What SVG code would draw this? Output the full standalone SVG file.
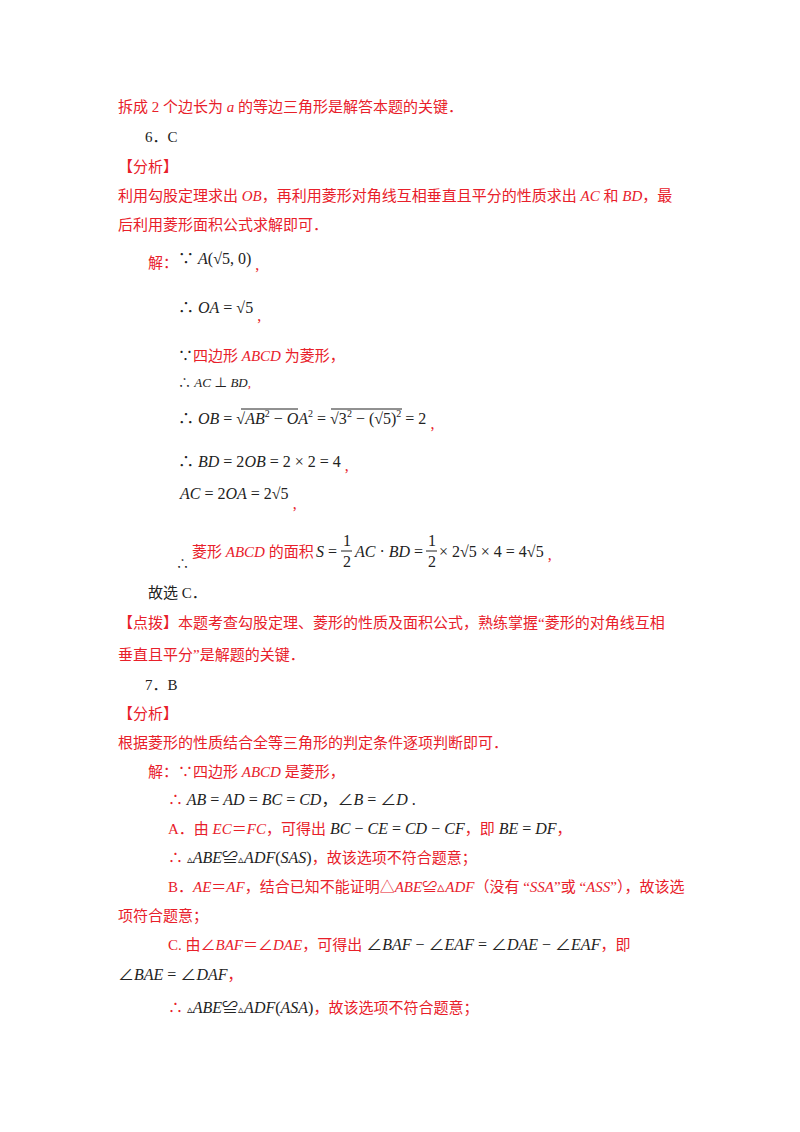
<svg xmlns="http://www.w3.org/2000/svg" width="800" height="1132" viewBox="0 0 800 1132">
<style>
text{font-family:"Liberation Serif","Noto Sans CJK SC",serif;font-size:15px;fill:#222}
.r{fill:#e8202a}
.m{font-style:italic}
.s{font-size:16px}
.sup{font-size:10px}
line{stroke:#222;stroke-width:1}
</style>
<rect width="800" height="1132" fill="#fff"/>
<text x="118" y="112" class="r">拆成 2 个边长为 <tspan class="m">a</tspan> 的等边三角形是解答本题的关键．</text>
<text x="145" y="142">6．C</text>
<text x="118" y="172" class="r">【分析】</text>
<text x="118" y="201" class="r">利用勾股定理求出 <tspan class="m">OB</tspan>，再利用菱形对角线互相垂直且平分的性质求出 <tspan class="m">AC</tspan> 和 <tspan class="m">BD</tspan>，最</text>
<text x="118" y="230" class="r">后利用菱形面积公式求解即可．</text>
<text x="148" y="268" class="r">解：</text>
<text x="178" y="264" class="s">∵ <tspan class="m">A</tspan>(√5, 0)<tspan class="r" dx="4" dy="6">,</tspan></text>
<text x="178" y="313" class="s">∴ <tspan class="m">OA</tspan> = √5<tspan class="r" dx="4" dy="8">,</tspan></text>
<text x="178" y="361">∵<tspan class="r">四边形 <tspan class="m">ABCD</tspan> 为菱形，</tspan></text>
<text x="178" y="387" style="font-size:13px">∴ <tspan class="m">AC</tspan> ⊥ <tspan class="m">BD</tspan><tspan class="r">,</tspan></text>
<text x="178" y="424" class="s">∴ <tspan class="m">OB</tspan> = √<tspan class="m">AB</tspan><tspan class="sup" dy="-7">2</tspan><tspan dy="7"> − </tspan><tspan class="m">OA</tspan><tspan class="sup" dy="-7">2</tspan><tspan dy="7"> = √3</tspan><tspan class="sup" dy="-7">2</tspan><tspan dy="7"> − (√5)</tspan><tspan class="sup" dy="-7">2</tspan><tspan dy="7"> = 2</tspan><tspan class="r" dx="4" dy="5">,</tspan></text>
<line x1="241" y1="409" x2="298" y2="409"/>
<line x1="331" y1="409" x2="402" y2="409"/>
<text x="178" y="467" class="s">∴ <tspan class="m">BD</tspan> = 2<tspan class="m">OB</tspan> = 2 × 2 = 4<tspan class="r" dx="4" dy="4">,</tspan></text>
<text x="180" y="499" class="s"><tspan class="m">AC</tspan> = 2<tspan class="m">OA</tspan> = 2√5<tspan class="r" dx="4" dy="10">,</tspan></text>
<text x="176" y="568" style="font-size:13px">∴</text>
<text x="192" y="557" class="r">菱形 <tspan class="m">ABCD</tspan> 的面积</text>
<text x="316" y="557" class="s"><tspan class="m">S</tspan> =</text>
<text x="343" y="546" class="s">1</text><line x1="341" y1="551" x2="352" y2="551"/><text x="343" y="567" class="s">2</text>
<text x="355" y="557" class="s"><tspan class="m">AC</tspan> · <tspan class="m">BD</tspan> =</text>
<text x="428" y="546" class="s">1</text><line x1="426" y1="551" x2="437" y2="551"/><text x="428" y="567" class="s">2</text>
<text x="439" y="557" class="s">× 2√5 × 4 = 4√5<tspan class="r" dx="4" dy="3">,</tspan></text>
<text x="148" y="598">故选 C．</text>
<text x="118" y="628" class="r">【点拨】本题考查勾股定理、菱形的性质及面积公式，熟练掌握“菱形的对角线互相</text>
<text x="118" y="660" class="r">垂直且平分”是解题的关键．</text>
<text x="145" y="690">7．B</text>
<text x="118" y="719" class="r">【分析】</text>
<text x="118" y="748" class="r">根据菱形的性质结合全等三角形的判定条件逐项判断即可．</text>
<text x="148" y="777" class="r">解：∵四边形 <tspan class="m">ABCD</tspan> 是菱形，</text>
<text x="168" y="805"><tspan class="r">∴</tspan> <tspan class="s"><tspan class="m">AB</tspan> = <tspan class="m">AD</tspan> = <tspan class="m">BC</tspan> = <tspan class="m">CD</tspan>，∠<tspan class="m">B</tspan> = ∠<tspan class="m">D</tspan> .</tspan></text>
<text x="168" y="834"><tspan class="r">A．由 <tspan class="m">EC</tspan>＝<tspan class="m">FC</tspan>，可得出</tspan><tspan class="s"> <tspan class="m">BC</tspan> − <tspan class="m">CE</tspan> = <tspan class="m">CD</tspan> − <tspan class="m">CF</tspan></tspan><tspan class="r">，即</tspan><tspan class="s"> <tspan class="m">BE</tspan> = <tspan class="m">DF</tspan></tspan><tspan class="r">，</tspan></text>
<text x="168" y="863"><tspan class="r">∴</tspan> <tspan class="s"><tspan style="font-size:11px">▵</tspan><tspan class="m">ABE</tspan>≌<tspan style="font-size:11px">▵</tspan><tspan class="m">ADF</tspan>(<tspan class="m">SAS</tspan>)</tspan><tspan class="r">，故该选项不符合题意；</tspan></text>
<text x="168" y="892" class="r">B．<tspan class="m">AE</tspan>＝<tspan class="m">AF</tspan>，结合已知不能证明△<tspan class="m">ABE</tspan>≌▵<tspan class="m">ADF</tspan>（没有 “<tspan class="m">SSA</tspan>”或 “<tspan class="m">ASS</tspan>”），故该选</text>
<text x="118" y="921" class="r">项符合题意；</text>
<text x="168" y="950"><tspan class="r">C. 由∠<tspan class="m">BAF</tspan>＝∠<tspan class="m">DAE</tspan>，可得出</tspan><tspan class="s"> ∠<tspan class="m">BAF</tspan> − ∠<tspan class="m">EAF</tspan> = ∠<tspan class="m">DAE</tspan> − ∠<tspan class="m">EAF</tspan></tspan><tspan class="r">，即</tspan></text>
<text x="118" y="980"><tspan class="s">∠<tspan class="m">BAE</tspan> = ∠<tspan class="m">DAF</tspan></tspan><tspan class="r">，</tspan></text>
<text x="168" y="1013"><tspan class="r">∴</tspan> <tspan class="s"><tspan style="font-size:11px">▵</tspan><tspan class="m">ABE</tspan>≌<tspan style="font-size:11px">▵</tspan><tspan class="m">ADF</tspan>(<tspan class="m">ASA</tspan>)</tspan><tspan class="r">，故该选项不符合题意；</tspan></text>
</svg>
